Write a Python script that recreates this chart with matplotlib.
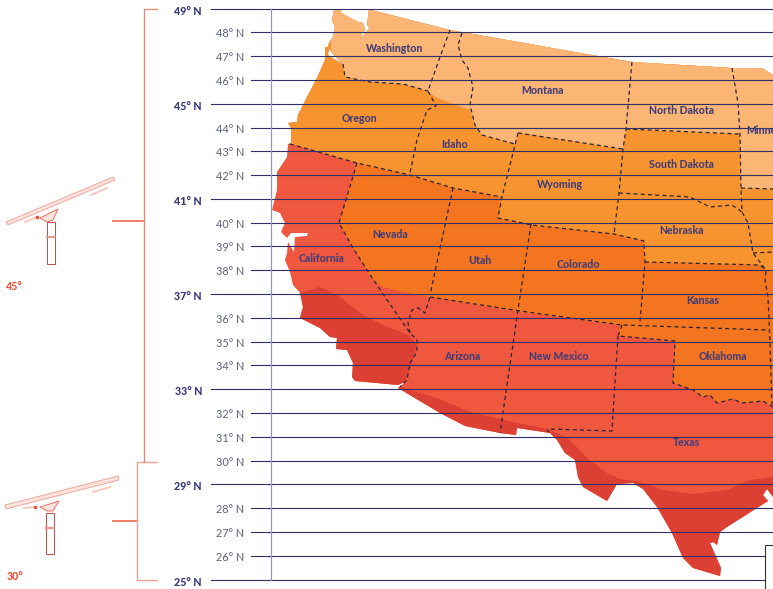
import matplotlib
matplotlib.use('Agg')
import matplotlib.pyplot as plt
from matplotlib.patches import Polygon, Rectangle

# everything is in picture pixels, the map has no real projection to work with
lats = [49, 48, 47, 46, 45, 44, 43, 42, 41, 40, 39, 38, 37, 36, 35, 34, 33, 32, 31, 30, 29, 28, 27, 26, 25]
lat_y = [9.3, 32.3, 56.3, 80.3, 104.3, 128.3, 151.3, 175.3, 199.3, 223.3, 246.3, 270.3, 294.3,
         318.3, 342.3, 365.3, 389.3, 413.3, 437.3, 461.3, 484.3, 508.3, 532.3, 556.3, 580.3]
major_lats = [49, 45, 41, 37, 33, 29, 25]

land = [(369, 9.5), (450, 30), (530, 44), (563, 50), (632, 62), (732, 68), (762, 68), (773, 75),
        (773, 497), (767, 489), (763, 495), (768, 501), (727, 527), (720, 532), (717, 545), (713, 542),
        (710, 543), (721, 568), (720, 576), (693, 568), (683, 558), (672, 533), (657, 507), (643, 489),
        (633, 483), (617, 484), (607, 501), (583, 487), (578, 477), (575, 460), (565, 453), (557, 440),
        (550, 433), (517, 428), (516, 435), (500, 433), (465, 426), (440, 413), (398, 388), (407, 381),
        (398, 385), (355, 381), (352, 377), (353, 363), (347, 350), (336, 349), (337, 338), (330, 337),
        (320, 328), (300, 318), (303, 307), (300, 293), (293, 285), (290, 272), (285, 260), (287, 253),
        (288, 242), (294, 252), (295, 237), (307, 236), (308, 233), (291, 233), (287, 238), (281, 232),
        (285, 223), (280, 213), (272, 210), (277, 190), (277, 172), (287, 157), (288, 144), (291, 143),
        (291, 128), (288, 123), (297, 122), (298, 115), (307, 97), (317, 78), (325, 60), (325, 47),
        (329, 47), (328, 55), (343, 65), (332, 53), (328, 47), (329, 43), (333, 37), (335, 27), (332, 20),
        (334, 10), (341, 10), (341, 13), (358, 22), (363, 23), (365, 30), (362, 33), (361, 40), (365, 33),
        (370, 28), (367, 25)]

band_light = [(331, 0), (773, 0), (773, 189), (741, 188), (740, 134), (626, 129), (623, 149), (520, 133),
              (518, 133), (515, 144), (482, 135), (475, 125), (470, 110), (437, 98), (427, 91), (403, 84),
              (370, 82), (345, 77), (343, 64), (331, 54)]
band_orange = [(280, 0), (773, 0), (773, 272), (766, 270), (760, 265), (645, 262), (644, 241), (614, 234),
               (532, 225), (498, 218), (502, 197), (453, 188), (410, 175), (357, 163), (288, 143), (280, 141)]
band_deep = [(357, 163), (339, 223), (353, 248), (367, 270), (370, 277), (383, 287), (403, 292), (430, 297),
             (520, 312), (620, 325), (618, 336), (675, 341), (673, 383), (693, 390), (703, 397), (710, 395),
             (717, 403), (733, 399), (742, 403), (763, 401), (773, 407), (773, 150), (357, 150)]
band_dark = [(280, 300), (300, 293), (320, 287), (337, 295), (363, 315), (383, 325), (408, 335), (417, 345),
             (412, 363), (405, 382), (400, 387), (437, 398), (470, 412), (517, 423), (543, 428), (558, 433),
             (570, 440), (587, 458), (607, 473), (620, 479), (640, 482), (663, 490), (693, 494), (727, 490),
             (750, 480), (773, 477), (773, 600), (280, 600)]

borders = [
    [(343, 64), (345, 77), (370, 82), (403, 84), (428, 91)],
    [(450, 30), (440, 57), (428, 91), (436, 106), (427, 110), (417, 140), (410, 173)],
    [(462, 33), (458, 45), (462, 60), (468, 68), (473, 87), (470, 105), (475, 125), (482, 135), (515, 144)],
    [(518, 133), (502, 197), (498, 218), (532, 225), (614, 234), (644, 241), (645, 262), (640, 322)],
    [(518, 133), (623, 149)],
    [(632, 62), (626, 129), (623, 149), (619, 193), (614, 234)],
    [(626, 129), (740, 134)],
    [(732, 68), (738, 103), (740, 134), (741, 188), (742, 212), (748, 223), (753, 253), (766, 270),
     (765, 280), (768, 297), (770, 343), (772, 405)],
    [(619, 193), (690, 197), (710, 207), (732, 205), (742, 212)],
    [(741, 188), (773, 189)],
    [(753, 253), (773, 252)],
    [(645, 262), (760, 265), (766, 270)],
    [(531, 224), (520, 297), (518, 310), (500, 433)],
    [(430, 297), (520, 311), (622, 325), (768, 330)],
    [(622, 325), (618, 336), (675, 341), (673, 383), (693, 390), (703, 397), (710, 395), (717, 403),
     (733, 399), (742, 403), (763, 401), (773, 407)],
    [(618, 336), (613, 413), (612, 431), (548, 429), (548, 432)],
    [(453, 188), (430, 295)],
    [(290, 144), (357, 163), (410, 175), (453, 188), (502, 197)],
    [(357, 163), (339, 223), (353, 248), (367, 270), (385, 297), (410, 333), (417, 340), (417, 352),
     (410, 363), (407, 380), (400, 387)],
    [(410, 333), (408, 323), (412, 310), (418, 308), (425, 313), (430, 297)],
]

state_names = ['Washington', 'Montana', 'North Dakota', 'Minnesota', 'Oregon', 'Idaho', 'South Dakota', 'Wyoming',
               'Nebraska', 'Nevada', 'Utah', 'Colorado', 'California', 'Kansas', 'Arizona', 'New Mexico',
               'Oklahoma', 'Texas']
state_left = [366, 521, 649, 746, 342, 441, 649, 537, 659, 372, 468, 557, 299, 686, 444, 529, 699, 673]
state_y = [48, 90, 110, 131, 118, 145, 164, 184, 231, 235, 260, 264, 258, 300, 356, 356, 357, 443]

# tilted panels on the left
panel_45 = [(6, 222), (113, 177), (115, 180), (8, 225)]
panel_30 = [(5, 505), (118, 476), (119, 480), (6, 509)]
strip_45 = [(91, 195), (107, 188)]
strip_30 = [(93, 492), (110, 487)]
foot_45 = [(25, 222), (37, 217)]
foot_30 = [(24, 508), (35, 507)]
mount_45 = [(40, 218), (58, 209), (53, 220), (47, 222)]
mount_30 = [(40, 507), (59, 501), (53, 511), (47, 511)]
post_45 = (47, 222, 8, 42)
post_30 = (46, 513, 7.5, 41)

line_col = '#2f3068'
label_col = '#443f78'
light_col = '#fbb575'
orange_col = '#f7942f'
deep_col = '#f3751f'
red_col = '#ef573e'
dark_col = '#dc4032'
label_font = 'Lato'

fig = plt.figure(figsize=(7.73, 5.89), dpi=100)
ax = fig.add_axes([0, 0, 1, 1])
ax.set_xlim(0, 773)
ax.set_ylim(589, 0)
ax.axis('off')

land_patch = Polygon(land, closed=True, facecolor=red_col, edgecolor='none', zorder=1)
ax.add_patch(land_patch)
for pts, col in [(band_deep, deep_col), (band_orange, orange_col), (band_light, light_col), (band_dark, dark_col)]:
    p = Polygon(pts, closed=True, facecolor=col, edgecolor='none', zorder=2)
    ax.add_patch(p)
    p.set_clip_path(land_patch)

for b in borders:
    xs = [q[0] for q in b]
    ys = [q[1] for q in b]
    ax.plot(xs, ys, color='#2a2438', lw=0.9, dashes=(3.2, 2.6), zorder=3)

# latitude lines and their labels
for lat, y in zip(lats, lat_y):
    if lat in major_lats:
        ax.plot([211, 773], [y, y], color=line_col, lw=0.8, zorder=4)
        ax.text(202, y + 2.5, f'{lat}° N', ha='right', va='center', fontsize=7.7, fontweight='black',
                family=label_font, color='#34387a')
    else:
        ax.plot([251, 773], [y, y], color=line_col, lw=0.8, zorder=4)
        ax.text(244, y + 1, f'{lat}° N', ha='right', va='center', fontsize=7.8,
                family=label_font, color='#5c5e80')
ax.plot([271, 271], [lat_y[0], lat_y[-1]], color='#9293c6', lw=0.9, zorder=4)

for name, x, y in zip(state_names, state_left, state_y):
    ax.text(x, y, name, ha='left', va='center', fontsize=7.6, fontweight='black', family=label_font,
            color=label_col, zorder=5, clip_on=True)

# box in the lower right corner, cut off by the picture edge
ax.add_patch(Rectangle((765, 545), 20, 60, facecolor='white', edgecolor='#333333', lw=0.8, zorder=6))

# brackets
ax.plot([157, 143.5, 143.5], [8.5, 8.5, 462], color='#dc8f74', lw=1.0, zorder=4)
ax.plot([157, 136.5, 136.5, 157], [462, 462, 580, 580], color='#f0a08c', lw=1.0, zorder=4)
ax.plot([113, 143], [221, 221], color='#ee6a4c', lw=1.2, zorder=4)
ax.plot([113, 136], [521, 521], color='#ee6a4c', lw=1.2, zorder=4)

for panel, strip, foot, mount, post in [(panel_45, strip_45, foot_45, mount_45, post_45),
                                        (panel_30, strip_30, foot_30, mount_30, post_30)]:
    ax.add_patch(Polygon(panel, closed=True, facecolor='#fde3dc', edgecolor='#ef9c90', lw=0.6, zorder=3))
    ax.plot([q[0] for q in strip], [q[1] for q in strip], color='#f6c4b8', lw=1.3, zorder=3)
    ax.plot([q[0] for q in foot], [q[1] for q in foot], color='#f6c4b8', lw=1.3, zorder=3)
    ax.plot(foot[1][0], foot[1][1], 's', color='#e8553f', ms=1.6, zorder=3)
    ax.add_patch(Polygon(mount, closed=True, facecolor='#fde3dc', edgecolor='#e8705f', lw=0.7, zorder=3))
    ax.add_patch(Rectangle(post[:2], post[2], post[3], facecolor='white', edgecolor='#bd4a44', lw=0.7, zorder=3))
    ax.plot([post[0], post[0] + post[2]], [post[1] + 15, post[1] + 15], color='#e58f87', lw=1.3, zorder=3)

ax.text(6, 286, '45°', ha='left', va='center', fontsize=7.7, fontweight='black', family=label_font, color='#e8553f')
ax.text(7, 577, '30°', ha='left', va='center', fontsize=7.7, fontweight='black', family=label_font, color='#e8553f')

fig.savefig('out.png', dpi=100)
